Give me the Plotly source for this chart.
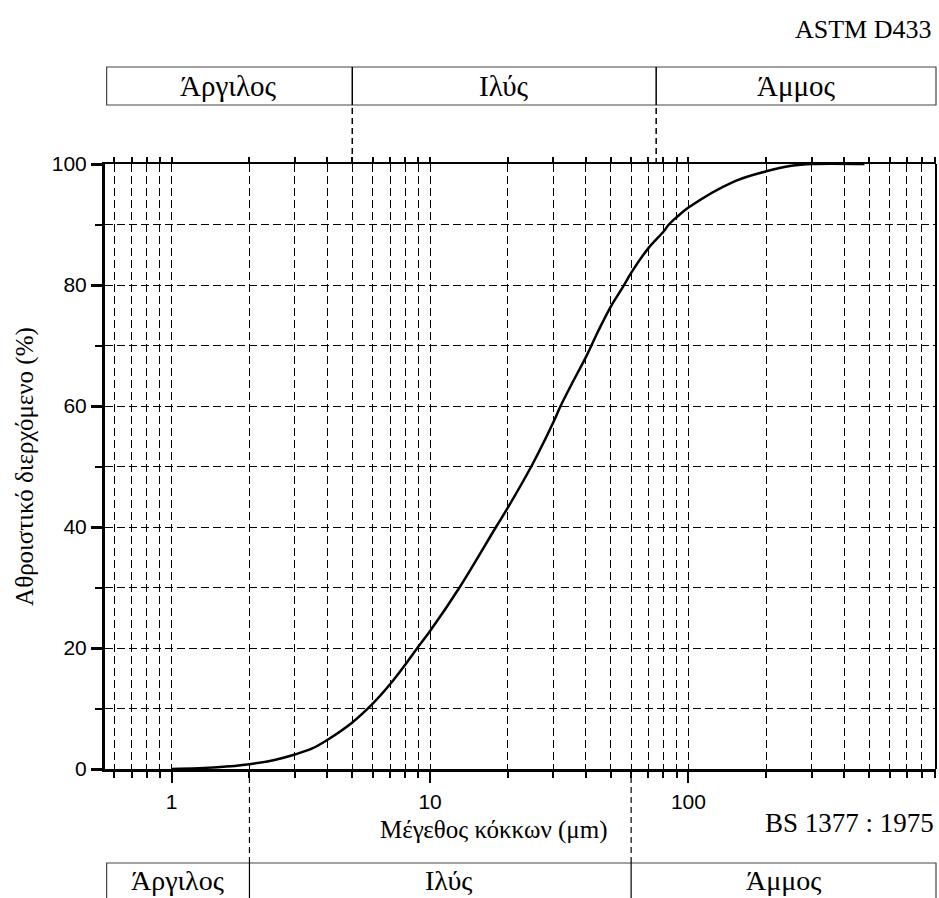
import plotly.graph_objects as go
import math

# ---- data ----
grain_size_um = [1, 1.5, 2, 2.5, 3, 3.5, 4, 5, 6, 7, 8, 9, 10, 13, 18, 20, 25, 30, 32, 36,
                 40, 45, 50, 56, 60, 70, 80, 84, 90, 100, 150, 200, 250, 300, 480]
passing_pct = [0, 0.3, 0.8, 1.5, 2.4, 3.4, 4.8, 7.7, 10.8, 14.0, 17.2, 20.2, 22.8, 30, 40, 43.2, 50.5, 57.3, 60, 64.3,
               68, 72.6, 76.4, 79.8, 82.0, 86.1, 88.8, 90, 91.2, 92.8, 97.1, 98.8, 99.7, 100, 100]

x_tick_vals = [1, 10, 100]
x_tick_text = ["1", "10", "100"]
y_tick_vals = [0, 20, 40, 60, 80, 100]

# classification bands
astm_bounds = [5, 75]           # μm, top band (ASTM D433)
astm_labels = ["Άργιλος", "Ιλύς", "Άμμος"]
bs_bounds = [2, 60]             # μm, bottom band (BS 1377 : 1975)
bs_labels = ["Άργιλος", "Ιλύς", "Άμμος"]

x_range_log = [-0.258, 2.958]

SERIF = "Liberation Serif, Times New Roman, serif"
SANS = "Liberation Sans, Arial, sans-serif"

fig = go.Figure()
fig.add_trace(go.Scatter(x=grain_size_um, y=passing_pct, mode="lines",
                         line=dict(color="black", width=2.5, shape="spline", smoothing=1.0),
                         showlegend=False, hoverinfo="skip"))
# invisible trace for top axis
fig.add_trace(go.Scatter(x=[1, 100], y=[0, 0], xaxis="x2", mode="markers",
                         marker=dict(opacity=0), showlegend=False, hoverinfo="skip"))

grid_dash = "8px,4px"
grid_w = 1.4

fig.update_layout(
    width=939, height=898,
    margin=dict(l=105, r=3, t=164, b=129),
    paper_bgcolor="white", plot_bgcolor="white",
    xaxis=dict(type="log", range=x_range_log,
               tickvals=x_tick_vals, ticktext=x_tick_text,
               ticks="outside", ticklen=11, tickwidth=2, tickcolor="black",
               showline=True, linecolor="black", linewidth=3,
               showgrid=True, gridcolor="black", gridwidth=grid_w, griddash=grid_dash,
               tickfont=dict(family=SANS, size=21, color="black"),
               ticklabelstandoff=1,
               minor=dict(dtick="D1", ticks="outside", ticklen=6, tickwidth=2, tickcolor="black",
                          showgrid=True, gridcolor="black", gridwidth=grid_w, griddash=grid_dash),
               zeroline=False),
    xaxis2=dict(type="log", range=x_range_log, overlaying="x", side="top",
                tickvals=x_tick_vals, ticktext=["", "", ""], showticklabels=False,
                ticks="outside", ticklen=12, tickwidth=1.5, tickcolor="black",
                showline=True, linecolor="black", linewidth=2, showgrid=False,
                minor=dict(dtick="D1", ticks="outside", ticklen=5, tickwidth=1.5, tickcolor="black",
                           showgrid=False)),
    yaxis=dict(range=[0, 100], tickvals=y_tick_vals,
               ticks="outside", ticklen=11, tickwidth=2.5, tickcolor="black",
               showline=True, linecolor="black", linewidth=3, mirror=False,
               showgrid=True, gridcolor="black", gridwidth=grid_w, griddash=grid_dash,
               tickfont=dict(family=SANS, size=21, color="black"),
               minor=dict(dtick=10, ticks="outside", ticklen=7, tickwidth=1.5, tickcolor="black",
                          showgrid=True, gridcolor="black", gridwidth=grid_w, griddash=grid_dash),
               zeroline=False),
)

# right border line
fig.add_shape(type="line", xref="paper", yref="paper", x0=1, x1=1, y0=0, y1=1,
              line=dict(color="black", width=2))

# ---- bands ----
top_y0, top_y1 = 1.0975, 1.1603
bot_y0, bot_y1 = -0.245, -0.1554
box_line = dict(color="#444444", width=1.2)

fig.add_shape(type="rect", xref="paper", yref="paper", x0=0.002, x1=1, y0=top_y0, y1=top_y1, line=box_line)
fig.add_shape(type="rect", xref="paper", yref="paper", x0=0.002, x1=1, y0=bot_y0, y1=bot_y1, line=box_line)

for b in astm_bounds:
    fig.add_shape(type="line", xref="x", yref="paper", x0=b, x1=b, y0=top_y0, y1=top_y1,
                  line=dict(color="black", width=1.5))
    fig.add_shape(type="line", xref="x", yref="paper", x0=b, x1=b, y0=1, y1=top_y0,
                  line=dict(color="black", width=1.5, dash="6px,4px"))
for b in bs_bounds:
    fig.add_shape(type="line", xref="x", yref="paper", x0=b, x1=b, y0=bot_y0, y1=bot_y1,
                  line=dict(color="black", width=1.2))
    fig.add_shape(type="line", xref="x", yref="paper", x0=b, x1=b, y0=bot_y1, y1=0,
                  line=dict(color="black", width=1.2, dash="6px,4px"))

lo, hi = 10 ** x_range_log[0], 10 ** x_range_log[1]

def seg_centers(bounds):
    edges = [math.log10(lo)] + [math.log10(v) for v in bounds] + [math.log10(hi)]
    return [(edges[i] + edges[i + 1]) / 2 for i in range(len(edges) - 1)]

for lbl, cx in zip(astm_labels, seg_centers(astm_bounds)):
    fig.add_annotation(text=lbl, xref="x", yref="paper", x=cx, y=(top_y0 + top_y1) / 2,
                       showarrow=False, xanchor="center", yanchor="middle",
                       font=dict(family=SERIF, size=29, color="black"))
bs_centers = seg_centers(bs_bounds)
bs_centers[1] += 0.03
for lbl, cx in zip(bs_labels, bs_centers):
    fig.add_annotation(text=lbl, xref="x", yref="paper", x=cx, y=-0.1835,
                       showarrow=False, xanchor="center", yanchor="middle",
                       font=dict(family=SERIF, size=28, color="black"))

fig.add_annotation(text="ASTM D433", xref="paper", yref="paper", x=0.997, y=1.222,
                   showarrow=False, xanchor="right", yanchor="middle",
                   font=dict(family=SERIF, size=26, color="black"))
fig.add_annotation(text="BS 1377 : 1975", xref="paper", yref="paper", x=1.0, y=-0.09,
                   showarrow=False, xanchor="right", yanchor="middle",
                   font=dict(family=SERIF, size=27, color="black"))
fig.add_annotation(text="Μέγεθος κόκκων (μm)", xref="paper", yref="paper", x=0.468, y=-0.10,
                   showarrow=False, xanchor="center", yanchor="middle",
                   font=dict(family=SERIF, size=25, color="black"))
fig.add_annotation(text="Αθροιστικό διερχόμενο (%)", xref="paper", yref="paper", x=-0.097, y=0.50,
                   showarrow=False, xanchor="center", yanchor="middle", textangle=-90,
                   font=dict(family=SERIF, size=25, color="black"))

fig.write_html("out.html")
